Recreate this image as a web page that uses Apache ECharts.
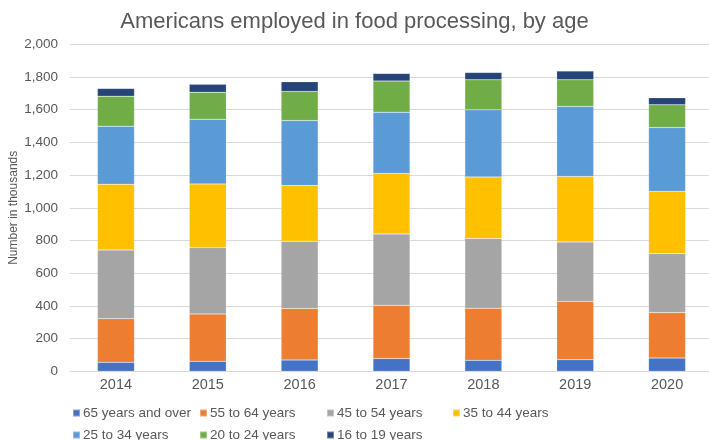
<!DOCTYPE html>
<html>
<head>
<meta charset="utf-8">
<script src="https://cdn.jsdelivr.net/npm/echarts@6/dist/echarts.min.js"></script>
<style>
  html, body { margin: 0; padding: 0; background: #fff; }
  #chart { width: 709px; height: 440px; }
</style>
</head>
<body>
<div id="chart"></div>
<script>
// Employment in food processing (thousands), by age group
const years = ['2014', '2015', '2016', '2017', '2018', '2019', '2020'];
const age65plus = [55, 61, 69, 78, 67, 71, 81];
const age55to64 = [267, 290, 315, 326, 319, 357, 278];
const age45to54 = [420, 406, 412, 436, 426, 363, 361];
const age35to44 = [402, 389, 340, 370, 377, 400, 380];
const age25to34 = [355, 396, 398, 375, 410, 429, 391];
const age20to24 = [184, 165, 178, 190, 184, 163, 139];
const age16to19 = [47, 48, 59, 47, 45, 53, 43];
const yTicks = [0, 200, 400, 600, 800, 1000, 1200, 1400, 1600, 1800, 2000];

const seriesDefs = [
  { name: '65 years and over', data: age65plus, color: '#4472C4' },
  { name: '55 to 64 years', data: age55to64, color: '#ED7D31' },
  { name: '45 to 54 years', data: age45to54, color: '#A5A5A5' },
  { name: '35 to 44 years', data: age35to44, color: '#FFC000' },
  { name: '25 to 34 years', data: age25to34, color: '#5B9BD5' },
  { name: '20 to 24 years', data: age20to24, color: '#70AD47' },
  { name: '16 to 19 years', data: age16to19, color: '#264478' }
];

const font = 'Liberation Sans, Arial, sans-serif';
const textColor = '#595959';

// Legend laid out as a grid of fixed columns, two rows
const legendCols = [72, 199, 326, 452];
const legendRows = [406, 428];
const legends = seriesDefs.map((s, i) => ({
  data: [s.name],
  left: legendCols[i % 4],
  top: legendRows[Math.floor(i / 4)],
  icon: 'rect',
  itemWidth: 7,
  itemHeight: 7,
  itemGap: 0,
  padding: 0,
  textStyle: { fontFamily: font, fontSize: 13.5, color: textColor, padding: [0, 0, 0, -2] },
  selectedMode: false
}));

const chart = echarts.init(document.getElementById('chart'), null, { renderer: 'canvas' });
chart.setOption({
  animation: false,
  title: {
    text: 'Americans employed in food processing, by age',
    left: 'center',
    top: 6,
    textStyle: { fontFamily: font, fontSize: 22, fontWeight: 'normal', color: textColor }
  },
  legend: legends,
  // the last category runs slightly past the right edge, so keep the grid unclamped
  grid: { left: 70, top: 44.3, width: 643, height: 327, containLabel: false, outerBoundsMode: 'none' },
  xAxis: {
    type: 'category',
    data: years,
    axisLine: { lineStyle: { color: '#D9D9D9', width: 1 } },
    axisTick: { show: false },
    axisLabel: { fontFamily: font, fontSize: 14.5, color: textColor, margin: 6 }
  },
  yAxis: {
    type: 'value',
    min: yTicks[0],
    max: yTicks[yTicks.length - 1],
    interval: yTicks[1] - yTicks[0],
    name: 'Number in thousands',
    nameLocation: 'middle',
    nameRotate: 90,
    nameGap: 50,
    nameMoveOverlap: false,
    nameTextStyle: { fontFamily: font, fontSize: 12, color: textColor },
    axisLine: { show: false },
    axisTick: { show: false },
    splitLine: { lineStyle: { color: '#D9D9D9', width: 1 } },
    axisLabel: {
      fontFamily: font, fontSize: 13.5, color: textColor, margin: 12,
      formatter: v => v.toLocaleString('en-US')
    }
  },
  series: seriesDefs.map(s => ({
    name: s.name,
    type: 'bar',
    stack: 'total',
    data: s.data,
    barWidth: 37,
    itemStyle: { color: s.color, borderColor: 'rgba(255,255,255,0.35)', borderWidth: 0.5 }
  }))
});
</script>
</body>
</html>
